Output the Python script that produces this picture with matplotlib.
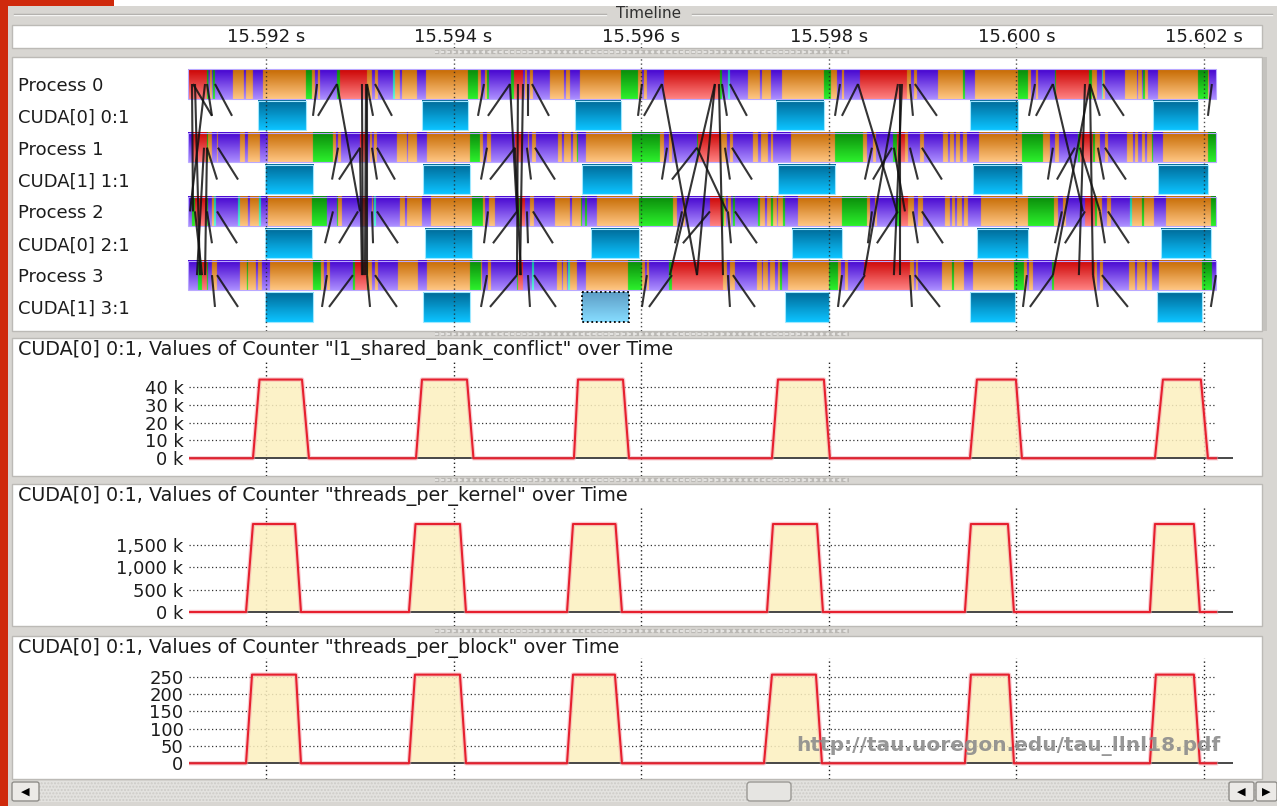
import numpy as np
import matplotlib
matplotlib.use("Agg")
import matplotlib.pyplot as plt
from matplotlib.patches import Rectangle, FancyBboxPatch
from matplotlib.collections import LineCollection
from matplotlib.colors import to_rgb

plt.rcParams['font.family'] = ['DejaVu Sans']

W, H = 1277, 806

# ---------------------------------------------------------------- data
# every time below is in microseconds after 15.592 s
time_ticks = [0, 2000, 4000, 6000, 8000, 10000]
time_labels = ["15.592 s", "15.594 s", "15.596 s", "15.598 s", "15.600 s", "15.602 s"]

row_labels = ["Process 0", "CUDA[0] 0:1", "Process 1", "CUDA[1] 1:1",
              "Process 2", "CUDA[0] 2:1", "Process 3", "CUDA[1] 3:1"]

trace_start, trace_end = -831, 10127

# non-purple pieces of each process row: (start, end, kind)
# O = orange, R = red (MPI), G = green, C = cyan ; the rest is purple
proc0 = [
    (-831, -629, "R"), (-629, -613, "G"), (-597, -576, "O"), (-565, -544, "G"),
    (-352, -235, "O"), (-213, -139, "O"), (-32, 426, "O"), (426, 490, "G"),
    (490, 522, "O"), (554, 576, "O"), (757, 789, "G"), (789, 1077, "R"),
    (1077, 1130, "O"), (1162, 1194, "O"), (1354, 1375, "C"), (1375, 1428, "O"),
    (1450, 1610, "O"), (1706, 2153, "O"), (2153, 2260, "G"), (2260, 2292, "O"),
    (2335, 2356, "O"), (2356, 2377, "G"), (2612, 2644, "G"), (2644, 2740, "R"),
    (2761, 2782, "O"), (2814, 2846, "O"), (3027, 3177, "O"), (3198, 3241, "O"),
    (3347, 3784, "O"), (3784, 3966, "G"), (3966, 4008, "O"), (4029, 4061, "O"),
    (4243, 4840, "R"), (4840, 4861, "G"), (4925, 4946, "C"), (5138, 5266, "O"),
    (5287, 5383, "O"), (5501, 5948, "O"), (5948, 6023, "G"), (6023, 6087, "O"),
    (6140, 6162, "O"), (6332, 6833, "R"), (6833, 6876, "O"), (6908, 6940, "O"),
    (7164, 7430, "O"), (7430, 7451, "G"), (7558, 8016, "O"), (8016, 8123, "G"),
    (8123, 8155, "O"), (8208, 8230, "O"), (8411, 8421, "G"), (8421, 8773, "R"),
    (8773, 8805, "G"), (8805, 8858, "O"), (8912, 8922, "C"), (8922, 8944, "O"),
    (9157, 9285, "O"), (9296, 9338, "O"), (9349, 9370, "G"), (9370, 9402, "O"),
    (9509, 9935, "O"), (9935, 10042, "G"), (10042, 10052, "O"),
]
proc1 = [
    (-778, -629, "R"), (-629, -618, "G"), (-618, -576, "O"), (-522, -512, "O"),
    (-277, -224, "O"), (-192, -64, "O"), (21, 501, "O"), (501, 714, "G"),
    (714, 746, "O"), (768, 800, "O"), (1002, 1077, "R"), (1109, 1130, "O"),
    (1151, 1183, "O"), (1396, 1503, "O"), (1514, 1610, "O"), (1716, 2175, "O"),
    (2175, 2281, "G"), (2281, 2313, "O"), (2356, 2399, "O"), (2654, 2740, "R"),
    (2793, 2804, "O"), (2836, 2878, "O"), (3113, 3155, "O"), (3177, 3251, "O"),
    (3273, 3315, "O"), (3315, 3326, "G"), (3411, 3902, "O"), (3902, 4200, "G"),
    (4200, 4243, "O"), (4296, 4328, "O"), (4595, 4605, "G"), (4605, 4850, "R"),
    (4850, 4914, "O"), (4946, 4978, "O"), (5191, 5245, "O"), (5277, 5351, "O"),
    (5383, 5405, "O"), (5597, 6066, "O"), (6066, 6364, "G"), (6364, 6407, "O"),
    (6471, 6503, "O"), (6684, 6726, "G"), (6726, 6812, "R"), (6812, 6844, "O"),
    (6972, 7014, "O"), (7217, 7270, "O"), (7291, 7334, "O"), (7355, 7398, "O"),
    (7430, 7473, "O"), (7601, 8059, "O"), (8059, 8283, "G"), (8283, 8357, "O"),
    (8411, 8453, "O"), (8656, 8677, "G"), (8677, 8816, "R"), (8816, 8837, "G"),
    (8837, 8890, "O"), (8944, 8976, "O"), (9178, 9242, "O"), (9264, 9296, "O"),
    (9338, 9370, "O"), (9392, 9445, "O"), (9445, 9456, "G"), (9562, 10042, "O"),
    (10042, 10127, "G"),
]
proc2 = [
    (-789, -757, "G"), (-757, -629, "R"), (-629, -618, "G"), (-576, -554, "O"),
    (-554, -533, "C"), (-298, -277, "C"), (-277, -192, "O"), (-171, -75, "O"),
    (-75, -53, "C"), (21, 490, "O"), (490, 650, "G"), (757, 768, "G"),
    (768, 810, "O"), (1023, 1077, "R"), (1130, 1141, "O"), (1151, 1173, "C"),
    (1428, 1482, "O"), (1503, 1663, "O"), (1759, 2196, "O"), (2196, 2313, "G"),
    (2313, 2335, "O"), (2377, 2441, "O"), (2676, 2697, "R"), (2697, 2708, "G"),
    (2708, 2761, "R"), (2814, 2857, "O"), (3081, 3241, "O"), (3262, 3358, "O"),
    (3358, 3369, "G"), (3401, 3422, "G"), (3528, 3976, "O"), (3976, 4339, "G"),
    (4339, 4381, "O"), (4445, 4467, "O"), (4733, 4861, "R"), (4861, 4882, "G"),
    (4882, 4904, "O"), (4925, 4957, "O"), (4978, 4999, "G"), (5245, 5266, "G"),
    (5266, 5319, "O"), (5341, 5383, "O"), (5383, 5405, "G"), (5405, 5447, "O"),
    (5458, 5511, "O"), (5511, 5533, "G"), (5671, 6140, "O"), (6140, 6407, "G"),
    (6407, 6439, "O"), (6492, 6513, "O"), (6726, 6769, "G"), (6769, 6844, "R"),
    (6844, 6908, "O"), (6950, 7004, "O"), (7238, 7291, "O"), (7313, 7345, "O"),
    (7366, 7419, "O"), (7441, 7483, "O"), (7622, 8123, "O"), (8123, 8400, "G"),
    (8400, 8443, "O"), (8496, 8528, "O"), (8731, 8837, "R"), (8837, 8858, "G"),
    (8858, 8912, "O"), (8965, 9008, "O"), (9210, 9232, "C"), (9232, 9338, "O"),
    (9338, 9360, "G"), (9360, 9466, "O"), (9594, 10073, "O"), (10073, 10127, "G"),
]
proc3 = [
    (-725, -682, "G"), (-682, -629, "R"), (-629, -618, "G"), (-576, -522, "O"),
    (-277, -203, "O"), (-203, -192, "G"), (-192, -107, "O"), (-85, -43, "O"),
    (43, 501, "O"), (501, 586, "G"), (586, 618, "O"), (650, 682, "O"),
    (927, 949, "G"), (949, 1077, "R"), (1077, 1087, "G"), (1087, 1130, "O"),
    (1162, 1194, "O"), (1407, 1620, "O"), (1716, 2175, "O"), (2175, 2292, "G"),
    (2292, 2303, "O"), (2366, 2399, "O"), (2676, 2686, "G"), (2686, 2740, "R"),
    (2836, 2857, "C"), (3102, 3155, "O"), (3166, 3209, "O"), (3219, 3241, "C"),
    (3241, 3315, "O"), (3411, 3859, "O"), (3859, 4008, "G"), (4008, 4040, "O"),
    (4061, 4083, "O"), (4296, 4328, "G"), (4328, 4872, "R"), (4872, 4914, "O"),
    (4946, 4999, "O"), (5234, 5287, "O"), (5298, 5351, "O"), (5373, 5426, "O"),
    (5458, 5479, "O"), (5479, 5501, "G"), (5565, 6002, "O"), (6002, 6098, "G"),
    (6098, 6130, "O"), (6172, 6204, "O"), (6375, 6865, "R"), (6865, 6908, "O"),
    (6929, 6950, "O"), (7206, 7313, "O"), (7313, 7334, "G"), (7334, 7441, "O"),
    (7537, 7974, "O"), (7974, 8080, "G"), (8080, 8112, "O"), (8134, 8176, "O"),
    (8379, 8400, "G"), (8400, 8837, "R"), (8837, 8858, "O"), (8890, 8922, "O"),
    (9200, 9264, "O"), (9285, 9370, "O"), (9392, 9445, "O"), (9519, 9978, "O"),
    (9978, 10084, "G"),
]

# GPU kernels on each CUDA stream: (start, end)
cuda0_kernels = [(-85, 426), (1663, 2153), (3294, 3784), (5437, 5948), (7505, 8016), (9456, 9935)]
cuda1_kernels = [(-11, 501), (1674, 2175), (3369, 3902), (5458, 6066), (7537, 8059), (9509, 10042)]
cuda2_kernels = [(-11, 490), (1695, 2196), (3465, 3976), (5607, 6140), (7579, 8123), (9541, 10073)]
cuda3_kernels = [(-11, 501), (1674, 2175), (3369, 3870), (5533, 6002), (7505, 7984), (9498, 9978)]
selected = (3, 2)   # stream index, kernel index (highlighted one)

# launch / copy arrows from a process to its CUDA stream: (t on process, t on stream)
launch0 = [(-778, -576), (-629, -576), (-544, -362), (544, 501), (757, 554), (1077, 1141),
           (1162, 1343), (2324, 2260), (2601, 2366), (2793, 2793), (2836, 3017), (4008, 3966),
           (4221, 4029), (4861, 4914), (4946, 5127), (6119, 6066), (6311, 6140), (6865, 6897),
           (6918, 7153), (8198, 8134), (8389, 8208), (8784, 8890), (8922, 9146), (10084, 10042)]
launch1 = [(-629, -522), (-512, -298), (768, 704), (1002, 778), (1130, 1183), (1183, 1375),
           (2356, 2292), (2654, 2388), (2782, 2825), (2868, 3081), (4275, 4221), (4595, 4328),
           (4893, 4946), (4968, 5181), (6460, 6385), (6673, 6471), (6865, 6950), (6993, 7206),
           (8389, 8336), (8624, 8432), (8869, 8933), (8944, 9168)]
launch2 = [(-629, -576), (-522, -309), (714, 629), (981, 778), (1130, 1141), (1183, 1407),
           (2366, 2324), (2676, 2420), (2782, 2793), (2846, 3059), (4435, 4360), (4733, 4445),
           (4925, 4957), (4999, 5234), (6460, 6417), (6737, 6513), (6897, 6950), (6993, 7217),
           (8485, 8411), (8731, 8517), (8890, 8944), (8976, 9200)]
launch3 = [(-576, -544), (-522, -298), (650, 597), (927, 672), (1077, 1109), (1162, 1396),
           (2356, 2292), (2676, 2388), (2793, 2814), (2857, 3091), (4061, 4008), (4328, 4083),
           (4925, 4946), (4978, 5213), (6140, 6098), (6385, 6151), (6865, 6886), (6918, 7185),
           (8112, 8070), (8389, 8144), (8816, 8869), (8912, 9189), (10127, 10073)]

# MPI messages between processes: (process a, t a, process b, t b)
mpi_msgs = [
    (0, -789, 2, -778), (0, -757, 3, -704), (0, -650, 2, -810), (1, -661, 3, -736),
    (2, -757, 3, -682), (1, -629, 3, -650),
    (0, 757, 2, 1002), (0, 1023, 3, 1034), (0, 1066, 3, 1055), (0, 1077, 3, 1077),
    (1, 1002, 3, 1023),
    (0, 2601, 2, 2676), (0, 2686, 3, 2676), (0, 2740, 3, 2708), (1, 2654, 3, 2718),
    (0, 4221, 3, 4595), (0, 4786, 3, 4595), (0, 4786, 3, 4306), (1, 4595, 2, 4914),
    (0, 4829, 3, 4872),
    (0, 6311, 2, 6726), (0, 6780, 3, 6694), (0, 6737, 3, 6375), (1, 6694, 2, 6812),
    (0, 6758, 3, 6758),
    (0, 8389, 2, 8709), (0, 8731, 3, 8666), (0, 8784, 3, 8816), (0, 8784, 3, 8389),
    (1, 8677, 2, 8890),
]

# counters: pulses as (rise start, top start, top end, fall end)
counter_start, counter_end = -821, 10127
bank_pulses = [(-139, -69, 384, 458), (1599, 1663, 2143, 2212), (3283, 3326, 3806, 3870),
               (5394, 5458, 5948, 6012), (7505, 7579, 7995, 8059), (9477, 9562, 9967, 10042)]
kernel_pulses = [(-213, -139, 309, 373), (1524, 1594, 2068, 2132), (3209, 3273, 3726, 3795),
                 (5341, 5405, 5874, 5938), (7451, 7515, 7910, 7974), (9423, 9477, 9892, 9956)]
block_pulses = [(-213, -149, 320, 373), (1524, 1588, 2068, 2132), (3209, 3273, 3720, 3795),
                (5309, 5394, 5863, 5927), (7451, 7515, 7920, 7974), (9423, 9487, 9892, 9956)]
bank_peak, kernel_peak, block_peak = 44000, 1970000, 256

bank_ticks = [0, 10000, 20000, 30000, 40000]
bank_labels = ["0 k", "10 k", "20 k", "30 k", "40 k"]
kernel_ticks = [0, 500000, 1000000, 1500000]
kernel_labels = ["0 k", "500 k", "1,000 k", "1,500 k"]
block_ticks = [0, 50, 100, 150, 200, 250]
block_labels = ["0", "50", "100", "150", "200", "250"]

# ---------------------------------------------------------------- layout
PX0, PX_PER_US = 266, 187.6 / 2000     # pixel of 15.592 s, pixels per microsecond
GRAY = '#d8d6d2'
TXT = '#1c1c1c'
DOT = (0, (1, 2))


def axes_px(x0, y0, x1, y1):
    ax = fig.add_axes([x0 / W, 1 - y1 / H, (x1 - x0) / W, (y1 - y0) / H])
    ax.set_facecolor('none')
    ax.set_xlim((x0 - PX0) / PX_PER_US, (x1 - PX0) / PX_PER_US)
    for s in ax.spines.values():
        s.set_visible(False)
    return ax


fig = plt.figure(figsize=(W / 100, H / 100), dpi=100)
fig.patch.set_facecolor(GRAY)

bg = fig.add_axes([0, 0, 1, 1])
bg.set_xlim(0, W)
bg.set_ylim(H, 0)
bg.axis('off')


def box(x0, y0, x1, y1, **kw):
    bg.add_patch(Rectangle((x0, y0), x1 - x0, y1 - y0, **kw))


box(0, 0, W, 6, fc='white', ec='none')
box(0, 0, 114, 6, fc='#cf2a0c', ec='none')
box(0, 0, 8, H, fc='#cf2a0c', ec='none')
for xa, xb in [(14, 606), (692, 1272)]:
    bg.plot([xa, xb], [13.5, 13.5], color='#a5a39f', lw=1)
    bg.plot([xa, xb], [15, 15], color='#f4f4f2', lw=1)
bg.text(649, 14, "Timeline", ha='center', va='center', fontsize=11, color='#303030')

panel_kw = dict(fc='white', ec='#bcbab6', lw=1)
box(12, 25, 1262, 48, **panel_kw)
box(12, 57, 1262, 331, **panel_kw)
box(12, 338, 1262, 476, **panel_kw)
box(12, 484, 1262, 626, **panel_kw)
box(12, 636, 1262, 779, **panel_kw)
box(1263, 57, 1267, 331, fc='#c4c2be', ec='none')
for yh in (52, 334, 480, 631):
    bg.plot([435, 849], [yh, yh], color='#bbb9b5', lw=3, ls=(0, (1, 0.5)))
    bg.plot([435, 849], [yh, yh], color='#ecebe9', lw=1.2, ls=(0, (2, 1.5)))

# horizontal scroll bar
box(12, 781, 1277, 802, fc='#e3e2df', ec='#cdcbc7', lw=0, hatch='.....')
for xb0, xb1, glyph in [(12, 39, '\u25C0'), (1229, 1254, '\u25C0'), (1256, 1277, '\u25B6')]:
    bg.add_patch(FancyBboxPatch((xb0, 782), xb1 - xb0, 19, boxstyle='round,pad=0,rounding_size=2',
                                fc='#eceae7', ec='#8e8c88', lw=1))
    bg.text((xb0 + xb1) / 2, 791.5, glyph, ha='center', va='center', fontsize=8, color='black')
bg.add_patch(FancyBboxPatch((747, 782), 44, 19, boxstyle='round,pad=0,rounding_size=3',
                            fc='#e6e5e2', ec='#9a9894', lw=1))

# ---------------------------------------------------------------- time ruler
rax = axes_px(12, 25, 1262, 48)
rax.set_xticks([])
rax.set_yticks([])
xt = rax.get_xaxis_transform()
for t, lab in zip(time_ticks, time_labels):
    rax.text(t, 0.5, lab, transform=xt, ha='center', va='center', fontsize=13, color=TXT)
rax.vlines(time_ticks, 0, 0.2, transform=xt, colors='#333333', lw=1, linestyles=DOT)

# ---------------------------------------------------------------- process timeline
ROW_PX, ROW0_PX = 31.85, 84
HALF = 14.6 / ROW_PX
pax = axes_px(12, 57, 1262, 331)

kind_index = {"P": 0, "O": 1, "R": 2, "G": 3, "C": 4}
tops = np.array([to_rgb(c) for c in ['#4604cf', '#c66a02', '#cc0404', '#0a8a0a', '#06b89c']])
bots = np.array([to_rgb(c) for c in ['#ab8dff', '#ffc683', '#ff8282', '#2cf02c', '#5effdc']])
grad = np.linspace(0, 1, 28)[:, None, None]
t_grid = np.arange(trace_start, trace_end)

procs = [proc0, proc1, proc2, proc3]
kernels = [cuda0_kernels, cuda1_kernels, cuda2_kernels, cuda3_kernels]
launches = [launch0, launch1, launch2, launch3]

k_top, k_bot = np.array(to_rgb('#006a98')), np.array(to_rgb('#0cc3ff'))
s_top, s_bot = np.array(to_rgb('#5e9ec6')), np.array(to_rgb('#86dcff'))

for p, pieces in enumerate(procs):
    kind = np.zeros(t_grid.size, dtype=int)
    for a, b, k in pieces:
        kind[(t_grid >= a) & (t_grid < b)] = kind_index[k]
    img = tops[kind][None] * (1 - grad) + bots[kind][None] * grad
    y = 2 * p
    pax.imshow(img, extent=(trace_start, trace_end, y + HALF, y - HALF), aspect='auto',
               interpolation='antialiased', zorder=2)
    pax.add_patch(Rectangle((trace_start, y - HALF), trace_end - trace_start, 2 * HALF,
                            fill=False, ec='#b9a8ff', lw=0.8, zorder=3))
    yc = 2 * p + 1
    for i, (a, b) in enumerate(kernels[p]):
        sel = (p, i) == selected
        top, bot = (s_top, s_bot) if sel else (k_top, k_bot)
        kimg = top * (1 - grad) + bot * grad
        pax.imshow(kimg, extent=(a, b, yc + HALF, yc - HALF), aspect='auto', zorder=2)
        if sel:
            pax.add_patch(Rectangle((a, yc - HALF), b - a, 2 * HALF, fill=False, ec='black',
                                    lw=1.3, ls=(0, (1, 1.5)), zorder=3))
        else:
            pax.add_patch(Rectangle((a, yc - HALF), b - a, 2 * HALF, fill=False, ec='#9fe8ff',
                                    lw=0.8, zorder=3))

segs = []
for p, lst in enumerate(launches):
    for tp, tc in lst:
        segs.append([(tp, 2 * p), (tc, 2 * p + 1)])
for ra, ta, rb, tb in mpi_msgs:
    segs.append([(ta, 2 * ra), (tb, 2 * rb)])
pax.add_collection(LineCollection(segs, colors='#111111', linewidths=1.5, alpha=0.85, zorder=6))

pax.set_ylim((331 - ROW0_PX) / ROW_PX, (57 - ROW0_PX) / ROW_PX)
pax.set_xlim((12 - PX0) / PX_PER_US, (1262 - PX0) / PX_PER_US)
pax.vlines(time_ticks, 0, 1, transform=pax.get_xaxis_transform(), colors='#222222',
           lw=1, linestyles=DOT, alpha=0.8, zorder=5)
pax.set_xticks([])
pax.set_yticks(range(len(row_labels)), row_labels)
pax.tick_params(axis='y', length=0, pad=-6 * 0.72, labelsize=13, labelcolor=TXT)
for lab in pax.get_yticklabels():
    lab.set_horizontalalignment('left')

# ---------------------------------------------------------------- counters
counters = [
    ("l1_shared_bank_conflict", bank_pulses, bank_peak, bank_ticks, bank_labels),
    ("threads_per_kernel", kernel_pulses, kernel_peak, kernel_ticks, kernel_labels),
    ("threads_per_block", block_pulses, block_peak, block_ticks, block_labels),
]
# title y, axes top, axes bottom, pixel of zero, pixel of the top tick
counter_px = [(350, 360, 476, 458.3, 386.7),
              (496, 507, 626, 612.0, 545.0),
              (648, 658, 779, 763.3, 676.7)]

for (name, pulses, peak, ticks, labels), (ty, top, bottom, zero_px, tick_px) in zip(counters, counter_px):
    fig.text(18 / W, 1 - ty / H, f'CUDA[0] 0:1, Values of Counter "{name}" over Time',
             ha='left', va='center', fontsize=13.8, color=TXT)
    ax = axes_px(189, top, 1233, bottom)
    per_px = ticks[-1] / (zero_px - tick_px)
    ax.set_ylim(-(bottom - zero_px) * per_px, (zero_px - top) * per_px)

    xs, ys = [counter_start], [0]
    for r0, a, b, f in pulses:
        xs += [r0, a, b, f]
        ys += [0, peak, peak, 0]
    xs.append(counter_end)
    ys.append(0)

    ax.hlines(ticks[1:], counter_start, counter_end, colors='#333333', lw=0.9,
              linestyles=DOT, zorder=1)
    ax.vlines(time_ticks, 0, 1, transform=ax.get_xaxis_transform(), colors='#222222',
              lw=1, linestyles=DOT, zorder=1)
    ax.fill_between(xs, ys, 0, color='#fcf0bf', alpha=0.85, lw=0, zorder=2)
    ax.axhline(0, color='#474747', lw=1.4, zorder=3)
    ax.plot(xs, ys, color='#f2a0aa', lw=3.2, alpha=0.5, zorder=4)
    ax.plot(xs, ys, color='#e6202e', lw=1.5, zorder=5)

    ax.set_xticks([])
    ax.set_yticks(ticks, labels)
    ax.tick_params(axis='y', length=0, pad=4, labelsize=13, labelcolor=TXT)

fig.text(1008 / W, 1 - 746 / H, "http://tau.uoregon.edu/tau_llnl18.pdf", ha='center',
         va='center', fontsize=14.5, fontweight='bold', color='#8c8c8c', alpha=0.9, zorder=10)

fig.savefig("out.png", dpi=100, facecolor=fig.get_facecolor())
